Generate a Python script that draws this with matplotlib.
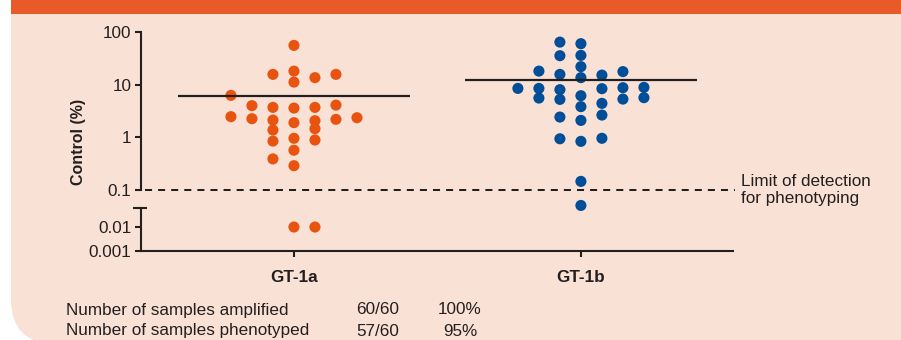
import numpy as np
import matplotlib
matplotlib.use("Agg")
import matplotlib.pyplot as plt
import matplotlib.patches as patches

plt.rcParams['font.family'] = ['Liberation Sans', 'DejaVu Sans']

# ---------------- data ----------------
genotypes = ['GT-1a', 'GT-1b']

gt1a_values = [55.7, 15.7, 18.1, 13.6, 15.7, 11.2, 6.27, 4.0, 3.71, 3.6, 3.71, 4.1,
               2.47, 2.26, 2.13, 1.90, 2.07, 2.20, 2.36, 1.38, 1.46, 0.85, 0.96, 0.89,
               0.57, 0.39, 0.29, 0.01, 0.01]
gt1a_slot = [0, -1, 0, 1, 2, 0, -3, -2, -1, 0, 1, 2,
             -3, -2, -1, 0, 1, 2, 3, -1, 1, -1, 0, 1,
             0, -1, 0, 0, 1]

gt1b_values = [64.3, 60.0, 35.5, 36.0, 22.0, 18.1, 17.7, 15.7, 15.2, 13.6, 8.5, 8.5,
               8.04, 8.4, 8.77, 8.89, 5.57, 5.26, 6.18, 5.33, 5.67, 3.83, 4.42, 2.65,
               2.43, 2.10, 0.94, 0.84, 0.96, 0.146, 0.051]
gt1b_slot = [-1, 0, -1, 0, 0, -2, 2, -1, 1, 0, -3, -2,
             -1, 1, 2, 3, -2, -1, 0, 2, 3, 0, 1, 1,
             -1, 0, -1, 0, 1, 0, 0]

medians = [6.0, 12.1]
detection_limit = 0.1

y_ticks = [100, 10, 1, 0.1, 0.01, 0.001]
y_ticklabels = ['100', '10', '1', '0.1', '0.01', '0.001']

table_rows = [('Number of samples amplified', '60/60', '100%'),
              ('Number of samples phenotyped', '57/60', '95%')]

# ---------------- style ----------------
ORANGE = '#E8540F'
BLUE = '#004E98'
BANNER = '#E95A29'
PANEL = '#FAE1D5'
INK = '#231F20'
FS = 12.3

W, H = 901, 340

# broken log axis: plain log10 above the break, compressed below it
LOW_F = -1.702
LOW_K = 0.455
BREAK = -1.453


def fwd(v):
    v = np.asarray(v, dtype=float)
    l = np.log10(np.clip(v, 1e-12, None))
    return np.where(l >= BREAK, l, LOW_F + (l + 2) * LOW_K)


def inv(f):
    f = np.asarray(f, dtype=float)
    return np.where(f >= BREAK, 10.0 ** f, 10.0 ** ((f - LOW_F) / LOW_K - 2))


fig = plt.figure(figsize=(W / 100, H / 100), dpi=100, facecolor='white')

# background panel + top banner (pixel coordinates)
bg = fig.add_axes([0, 0, 1, 1], zorder=-1)
bg.set_xlim(0, W)
bg.set_ylim(H, 0)
bg.axis('off')
bg.add_patch(patches.FancyBboxPatch((11, -60), 960, 404,
                                    boxstyle='round,pad=0,rounding_size=45',
                                    facecolor=PANEL, edgecolor='none'))
bg.add_patch(patches.Rectangle((11, 0), W, 14, facecolor=BANNER, edgecolor='none'))

# main plot
ax = fig.add_axes([141 / W, (H - 251) / H, 592 / W, 219 / H])
ax.patch.set_alpha(0)
ax.set_yscale('function', functions=(fwd, inv))
ax.set_ylim(0.001, 100)
ax.set_xlim(-0.533, 1.530)

slot_w = 0.0732
for i, (vals, slots, col) in enumerate([(gt1a_values, gt1a_slot, ORANGE),
                                        (gt1b_values, gt1b_slot, BLUE)]):
    xs = i + np.array(slots) * slot_w
    ax.scatter(xs, vals, s=64, color=col, edgecolors='none', zorder=3)
    ax.plot([i - 0.404, i + 0.404], [medians[i], medians[i]],
            color=INK, lw=1.6, zorder=4, solid_capstyle='butt')

# limit of detection
ax.axhline(detection_limit, xmin=0.007, xmax=1.004, color=INK, lw=1.45,
           linestyle=(0, (3.5, 3)), zorder=2, clip_on=False)
ax.text(1.0135, detection_limit, 'Limit of detection\nfor phenotyping',
        transform=ax.get_yaxis_transform(), ha='left', va='center',
        fontsize=FS, color=INK, linespacing=1.2)

# axis spines
for s in ['top', 'right', 'left']:
    ax.spines[s].set_visible(False)
ax.spines['bottom'].set_linewidth(1.5)
ax.spines['bottom'].set_color(INK)

trans = ax.get_yaxis_transform()
cap_y = 0.0456
ax.plot([0, 0], [0.1, 100], transform=trans, color=INK, lw=1.5,
        clip_on=False, solid_capstyle='projecting')
ax.plot([0, 0], [0.001, cap_y], transform=trans, color=INK, lw=1.5,
        clip_on=False, solid_capstyle='projecting')
ax.plot([-0.0135, 0.0105], [cap_y, cap_y], transform=trans, color=INK, lw=1.5,
        clip_on=False, solid_capstyle='butt')

ax.set_yticks(y_ticks)
ax.set_yticklabels(y_ticklabels)
ax.yaxis.set_minor_locator(matplotlib.ticker.NullLocator())
ax.set_xticks(range(len(genotypes)))
ax.set_xticklabels(genotypes, fontweight='bold')
ax.tick_params(axis='both', direction='out', length=4, width=1.5, color=INK,
               labelcolor=INK, labelsize=FS)
ax.tick_params(axis='y', pad=3)
ax.tick_params(axis='x', pad=10)

ax.set_ylabel('Control (%)', fontweight='bold', fontsize=11.5, color=INK, labelpad=2)

# sample summary
for k, (label, frac, pct) in enumerate(table_rows):
    yy = 1 - (310 + 21 * k) / H
    fig.text(66 / W, yy, label, ha='left', va='center', fontsize=FS, color=INK)
    fig.text(378 / W, yy, frac, ha='center', va='center', fontsize=FS, color=INK)
    fig.text(460 / W, yy, pct, ha='center', va='center', fontsize=FS, color=INK)

fig.savefig('out.png', dpi=100, facecolor=fig.get_facecolor())
